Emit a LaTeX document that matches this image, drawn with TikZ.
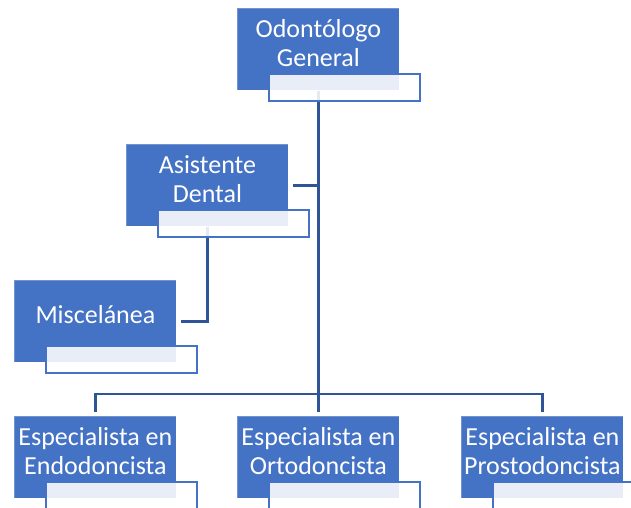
\documentclass[tikz,border=0pt]{standalone}
\usepackage{fontspec}
\setmainfont{Carlito}
\usetikzlibrary{calc}
\definecolor{boxblue}{HTML}{4472C4}
\definecolor{linkblue}{HTML}{2F5597}
\newcommand{\lblfont}{\fontsize{26}{29}\selectfont}
\begin{document}
\begin{tikzpicture}[x=1pt,y=1pt,
  bluebox/.style={rectangle, fill=boxblue, draw=white, draw opacity=0.25,
    line width=0.8pt, minimum width=162pt, minimum height=82pt,
    inner sep=0pt, anchor=north west},
  tabbox/.style={rectangle, fill=white, fill opacity=0.88, draw=boxblue,
    draw opacity=1, line width=2pt, minimum width=151pt, minimum height=27pt,
    inner sep=0pt, anchor=north west},
  lbl/.style={text=white, font=\lblfont, align=center, inner sep=0pt},
  conn/.style={draw=linkblue, line width=2.8pt}]
\useasboundingbox (0,0) rectangle (631,-508);

% coloured boxes
\node[bluebox] (og)     at (237,-8)   {};
\node[bluebox] (asis)   at (126,-144) {};
\node[bluebox] (misc)   at (14,-280)  {};
\node[bluebox] (endo)   at (14,-416)  {};
\node[bluebox] (orto)   at (237,-416) {};
\node[bluebox] (prosto) at (461,-416) {};

% connectors
\coordinate (bus) at (og.south |- 0,-394);
\draw[conn] (og.south) -- (bus);
\draw[conn, shorten >=4pt] (bus) -| (endo.north);
\draw[conn, shorten >=4pt] (bus) -| (prosto.north);
\draw[conn, shorten >=4pt] (bus) -- (orto.north);
\draw[conn, shorten >=4pt] (og.south |- asis.east) -- (asis.east);
\draw[conn, shorten >=4pt] (asis.south) |- (misc.east);

% title tabs
\foreach \b in {og,asis,misc,endo,orto,prosto}
  \node[tabbox] (\b-tab) at ($(\b.north west)+(31,-65)$) {};

% labels
\node[lbl] (og-txt)     at ($(og.north)+(0,-35)$)     {Odontólogo\\General};
\node[lbl] (asis-txt)   at ($(asis.north)+(0,-35)$)   {Asistente\\Dental};
\node[lbl] (misc-txt)   at ($(misc.north)+(0,-35)$)   {Miscelánea};
\node[lbl] (endo-txt)   at ($(endo.north)+(0,-35)$)   {Especialista en\\Endodoncista};
\node[lbl] (orto-txt)   at ($(orto.north)+(0,-35)$)   {Especialista en\\Ortodoncista};
\node[lbl] (prosto-txt) at ($(prosto.north)+(0,-35)$) {Especialista en\\Prostodoncista};
\end{tikzpicture}
\end{document}
